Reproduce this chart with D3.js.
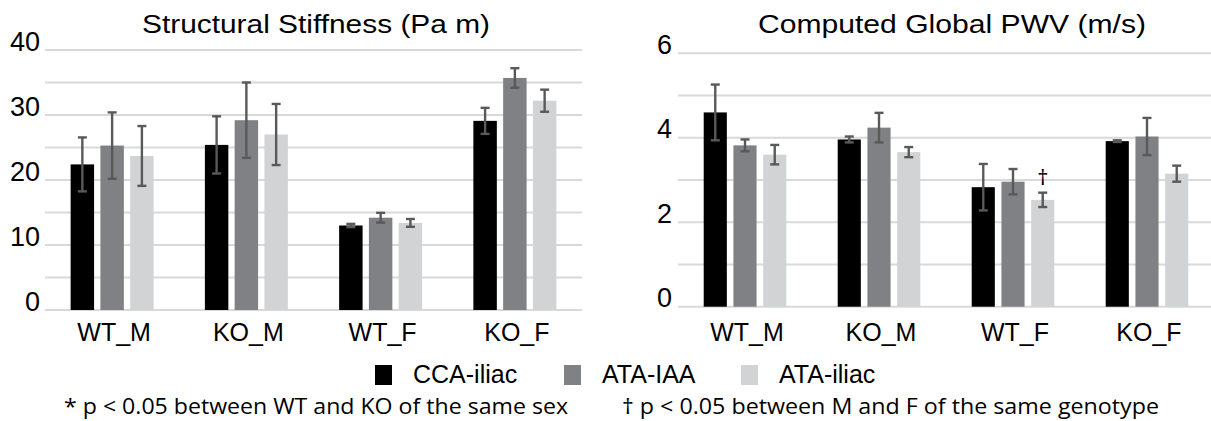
<!DOCTYPE html>
<html>
<head>
<meta charset="utf-8">
<script src="https://cdn.jsdelivr.net/npm/d3@7/dist/d3.min.js"></script>
<style>
  html, body { margin: 0; padding: 0; background: #fff; }
  svg { display: block; }
  .sans { font-family: "Liberation Sans", Arial, Helvetica, sans-serif; fill: #000; }
  .note { font-family: "Open Sans", "Noto Sans", sans-serif; fill: #000; }
</style>
</head>
<body>
<svg id="chart" width="1211" height="421"></svg>
<script>
// Groups (genotype_sex) and the three vessel paths
const groups = ["WT_M", "KO_M", "WT_F", "KO_F"];
const seriesNames = ["CCA-iliac", "ATA-IAA", "ATA-iliac"];
const seriesColors = ["#000000", "#808184", "#d1d3d4"];

// Structural stiffness (Pa m): mean and error per series, one value per group
const stiffCCA      = [22.4, 25.4, 13.0, 29.1];
const stiffATAIAA   = [25.3, 29.2, 14.2, 35.7];
const stiffATAiliac = [23.7, 27.0, 13.4, 32.2];
const stiffErrCCA      = [4.15, 4.4, 0.25, 2.0];
const stiffErrATAIAA   = [5.1, 5.8, 0.75, 1.5];
const stiffErrATAiliac = [4.6, 4.7, 0.6, 1.7];
const stiffTicks = [0, 10, 20, 30, 40];
const stiffGrid  = [0, 5, 10, 15, 20, 25, 30, 35, 40];

// Computed global PWV (m/s)
const pwvCCA      = [4.60, 3.96, 2.83, 3.92];
const pwvATAIAA   = [3.82, 4.24, 2.96, 4.03];
const pwvATAiliac = [3.60, 3.66, 2.53, 3.15];
const pwvErrCCA      = [0.66, 0.07, 0.55, 0.02];
const pwvErrATAIAA   = [0.14, 0.35, 0.30, 0.44];
const pwvErrATAiliac = [0.23, 0.12, 0.17, 0.19];
const pwvTicks = [0, 2, 4, 6];
const pwvGrid  = [0, 1, 2, 3, 4, 5, 6];
// significance marks: [group, series, symbol]
const pwvMarks = [["WT_F", "ATA-iliac", "\u2020"]];

const svg = d3.select("#chart");

function buildRows(means, errs) {
  const rows = [];
  groups.forEach((g, gi) => {
    seriesNames.forEach((s, si) => {
      rows.push({ group: g, series: s, value: means[si][gi], err: errs[si][gi] });
    });
  });
  return rows;
}

function drawPanel(opt) {
  const g = svg.append("g");
  const x0 = d3.scaleBand().domain(groups).range(opt.xRange).padding(0);
  const bw = x0.bandwidth();
  const span = opt.barSpan;
  const x1 = d3.scaleBand().domain(seriesNames)
    .range([(bw - span) / 2, (bw + span) / 2])
    .paddingInner(opt.innerPad).paddingOuter(0);
  const y = d3.scaleLinear().domain(opt.yDomain).range(opt.yRange);
  const color = d3.scaleOrdinal().domain(seriesNames).range(seriesColors);

  // gridlines
  g.append("g").selectAll("line").data(opt.grid).join("line")
    .attr("x1", opt.gridX[0]).attr("x2", opt.gridX[1])
    .attr("y1", d => y(d)).attr("y2", d => y(d))
    .attr("stroke", "#d9d9d9").attr("stroke-width", 2);

  // y tick labels
  const yAxis = d3.axisLeft(y).tickValues(opt.ticks).tickFormat(d3.format("d"))
    .tickSize(0).tickPadding(0);
  const ya = g.append("g").attr("transform", `translate(${opt.tickX},0)`).call(yAxis);
  ya.select(".domain").remove();
  ya.attr("font-size", null).attr("font-family", null);
  ya.selectAll("text")
    .attr("class", "sans")
    .attr("font-size", 27)
    .attr("dy", opt.tickDy)
    .attr("fill", "#000");

  // bars
  const rows = buildRows(opt.means, opt.errs);
  const bars = g.append("g").selectAll("g").data(rows).join("g")
    .attr("transform", d => `translate(${x0(d.group) + x1(d.series)},0)`);
  bars.append("rect")
    .attr("x", 0).attr("width", x1.bandwidth())
    .attr("y", d => y(d.value))
    .attr("height", d => y(0) - y(d.value))
    .attr("fill", d => color(d.series));

  // error bars
  const cx = x1.bandwidth() / 2, cap = 4.5;
  const eb = bars.append("g").attr("stroke", "#595959").attr("stroke-width", 2.4);
  eb.append("line")
    .attr("x1", cx).attr("x2", cx)
    .attr("y1", d => y(d.value + d.err)).attr("y2", d => y(d.value - d.err));
  eb.append("line")
    .attr("x1", cx - cap).attr("x2", cx + cap)
    .attr("y1", d => y(d.value + d.err)).attr("y2", d => y(d.value + d.err));
  eb.append("line")
    .attr("x1", cx - cap).attr("x2", cx + cap)
    .attr("y1", d => y(d.value - d.err)).attr("y2", d => y(d.value - d.err));

  // significance marks above error bars
  (opt.marks || []).forEach(m => {
    const r = rows.find(d => d.group === m[0] && d.series === m[1]);
    g.append("text").attr("class", "note")
      .attr("x", x0(r.group) + x1(r.series) + cx)
      .attr("y", y(r.value + r.err) - 8)
      .attr("text-anchor", "middle")
      .attr("font-size", 22)
      .text(m[2]);
  });

  // group labels
  g.append("g").selectAll("text").data(groups).join("text")
    .attr("class", "sans")
    .attr("x", d => x0(d) + bw / 2 + 2)
    .attr("y", 341)
    .attr("text-anchor", "middle")
    .attr("font-size", 25)
    .text(d => d);

  // title
  g.append("text").attr("class", "sans")
    .attr("x", opt.titleX[0]).attr("y", 33)
    .attr("font-size", 26)
    .attr("textLength", opt.titleX[1] - opt.titleX[0])
    .attr("lengthAdjust", "spacingAndGlyphs")
    .text(opt.title);
}

drawPanel({
  title: "Structural Stiffness (Pa m)",
  titleX: [142, 490],
  xRange: [45, 582], gridX: [45, 582],
  barSpan: 83, innerPad: 0.212,
  yDomain: [0, 40], yRange: [310, 50],
  ticks: stiffTicks, grid: stiffGrid, tickX: 40, tickDy: "0.0em",
  means: [stiffCCA, stiffATAIAA, stiffATAiliac],
  errs: [stiffErrCCA, stiffErrATAIAA, stiffErrATAiliac]
});

drawPanel({
  title: "Computed Global PWV (m/s)",
  titleX: [758, 1146],
  xRange: [678, 1214], gridX: [678, 1211],
  barSpan: 82.6, innerPad: 0.222,
  yDomain: [0, 6], yRange: [306.7, 53.3],
  ticks: pwvTicks, grid: pwvGrid, tickX: 672, tickDy: "0.0em",
  means: [pwvCCA, pwvATAIAA, pwvATAiliac],
  errs: [pwvErrCCA, pwvErrATAIAA, pwvErrATAiliac],
  marks: pwvMarks
});

// legend
const legendX = [375, 564, 741];
const legend = svg.append("g").selectAll("g").data(seriesNames).join("g")
  .attr("transform", (d, i) => `translate(${legendX[i]},365)`);
legend.append("rect").attr("width", 17).attr("height", 20)
  .attr("fill", (d, i) => seriesColors[i]);
legend.append("text").attr("class", "sans")
  .attr("x", 38).attr("y", 18).attr("font-size", 25)
  .text(d => d);

// footnotes
const notes = [
  { text: "* p < 0.05 between WT and KO of the same sex", x: [64, 568] },
  { text: "\u2020 p < 0.05 between M and F of the same genotype", x: [622, 1159] }
];
svg.append("g").selectAll("text").data(notes).join("text")
  .attr("class", "note")
  .attr("x", d => d.x[0]).attr("y", 414)
  .attr("font-size", 22)
  .attr("textLength", d => d.x[1] - d.x[0])
  .attr("lengthAdjust", "spacingAndGlyphs")
  .text(d => d.text);
</script>
</body>
</html>
